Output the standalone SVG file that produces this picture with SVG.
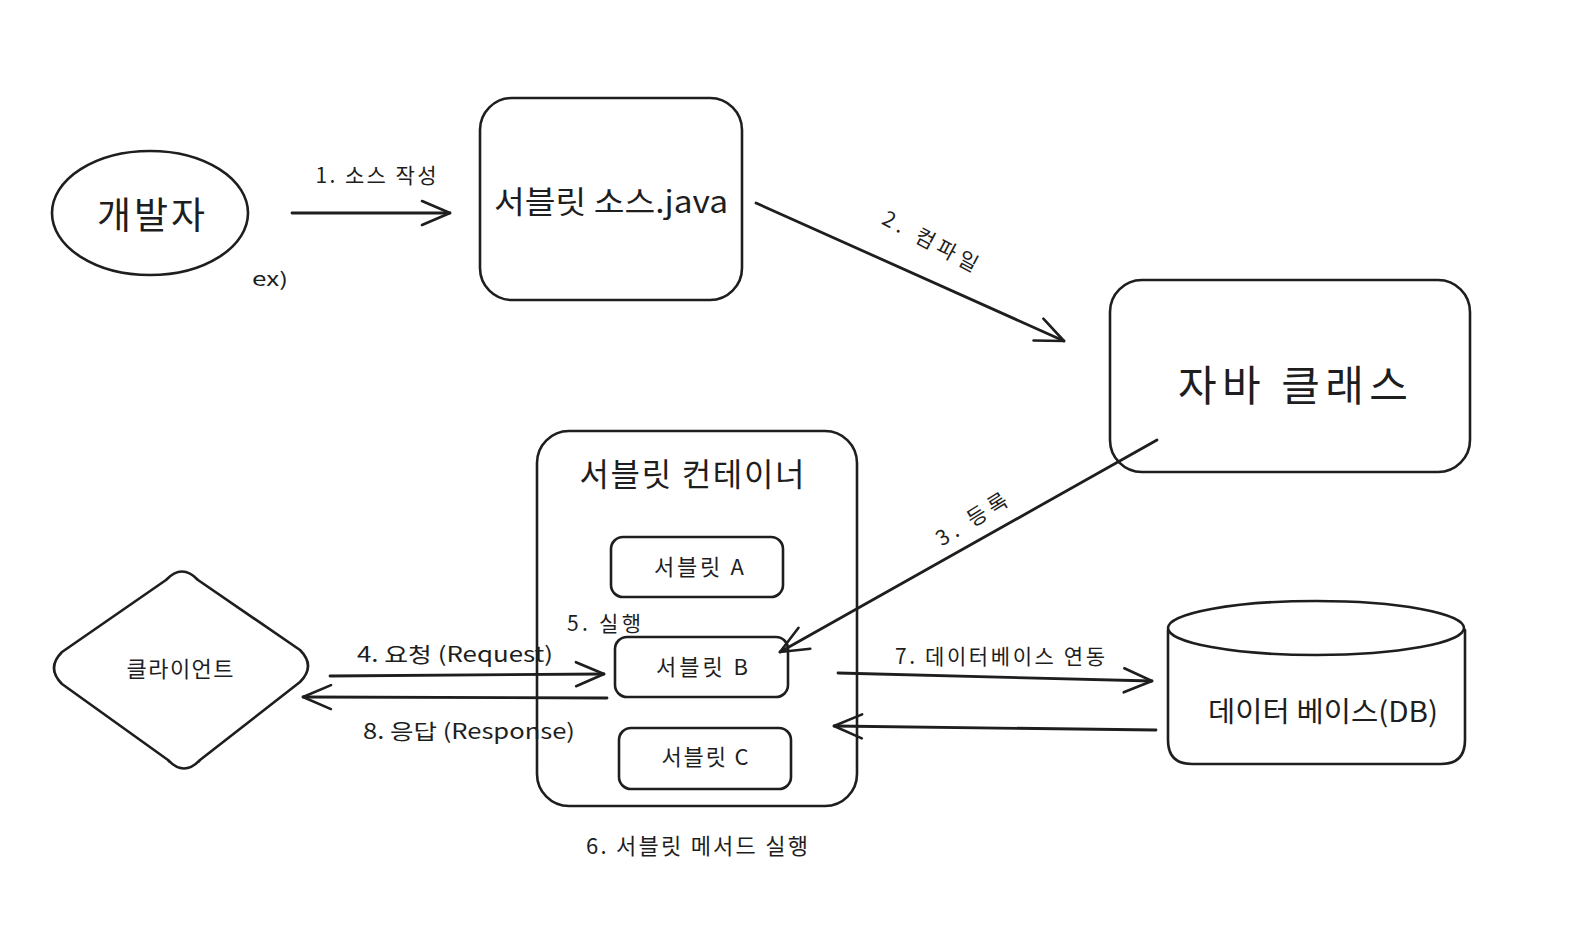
<svg xmlns="http://www.w3.org/2000/svg" width="1592" height="944" viewBox="0 0 1592 944">
<style>
.s{fill:none;stroke:#1e1e1e;stroke-width:2.6;stroke-linecap:round;stroke-linejoin:round}
.c{fill:none;stroke:#1e1e1e;stroke-width:2.8;stroke-linecap:round}
text{font-family:"Noto Sans CJK KR","Noto Sans",sans-serif;fill:#1e1e1e;text-anchor:middle;dominant-baseline:central}
</style>
<defs>
<marker id="ah" markerUnits="userSpaceOnUse" markerWidth="40" markerHeight="40" refX="30" refY="20" orient="auto" viewBox="0 0 40 40">
<path d="M2,8 L30,20 L2,32" fill="none" stroke="#1e1e1e" stroke-width="2.6" stroke-linecap="round" stroke-linejoin="round"/>
</marker>
</defs>
<rect width="1592" height="944" fill="#ffffff"/>

<g id="developer">
<ellipse class="s" cx="150" cy="213" rx="98" ry="62"/>
<text x="151" y="213" font-size="37" textLength="108" lengthAdjust="spacing">개발자</text>
</g>
<text x="270" y="277" font-size="19" textLength="36" lengthAdjust="spacingAndGlyphs">ex)</text>

<g id="servlet-source">
<rect class="s" x="480" y="98" width="262" height="202" rx="32"/>
<text x="611" y="199" font-size="31" textLength="234" lengthAdjust="spacingAndGlyphs">서블릿 소스.java</text>
</g>

<g id="java-class">
<rect class="s" x="1110" y="280" width="360" height="192" rx="32"/>
<text x="1293" y="382" font-size="42" textLength="230" lengthAdjust="spacing">자바 클래스</text>
</g>

<g id="servlet-container">
<rect class="s" x="537" y="431" width="320" height="375" rx="32"/>
<text x="692" y="472" font-size="32" textLength="225" lengthAdjust="spacing">서블릿 컨테이너</text>
</g>

<g id="servlet-a">
<rect class="s" x="611" y="537" width="172" height="60" rx="12"/>
<text x="699" y="565" font-size="22" textLength="90" lengthAdjust="spacing">서블릿 A</text>
</g>
<g id="servlet-b">
<rect class="s" x="615" y="637" width="173" height="60" rx="12"/>
<text x="702" y="665" font-size="22" textLength="92" lengthAdjust="spacing">서블릿 B</text>
</g>
<g id="servlet-c">
<rect class="s" x="619" y="728" width="172" height="61" rx="12"/>
<text x="705" y="755" font-size="22" textLength="87" lengthAdjust="spacing">서블릿 C</text>
</g>

<g id="client">
<path class="s" d="M166,580 Q182,563 198,580 L300,650 Q316,666 300,682 L200,760 Q184,777 168,760 L62,684 Q46,668 62,652 Z"/>
<text x="180" y="667" font-size="22" textLength="107" lengthAdjust="spacing">클라이언트</text>
</g>

<g id="database">
<path class="s" d="M1168,630 L1168,740 Q1168,764 1192,764 L1441,764 Q1465,764 1465,740 L1465,630"/>
<ellipse class="s" cx="1316" cy="628" rx="148" ry="27"/>
<text x="1323" y="710" font-size="28" textLength="230" lengthAdjust="spacingAndGlyphs">데이터 베이스(DB)</text>
</g>

<g id="connectors">
<line class="c" x1="292" y1="213" x2="450" y2="213" marker-end="url(#ah)"/>
<line class="c" x1="756" y1="203" x2="1064" y2="341" marker-end="url(#ah)"/>
<line class="c" x1="1157" y1="440" x2="780" y2="652" marker-end="url(#ah)" stroke-width="2"/>
<line class="c" x1="330" y1="676" x2="604" y2="674" marker-end="url(#ah)"/>
<line class="c" x1="607" y1="698" x2="303" y2="697" marker-end="url(#ah)"/>
<line class="c" x1="838" y1="673" x2="1152" y2="681" marker-end="url(#ah)"/>
<line class="c" x1="1156" y1="730" x2="834" y2="726" marker-end="url(#ah)"/>
</g>

<g id="labels">
<text x="376" y="174" font-size="21" textLength="121" lengthAdjust="spacing">1. 소스 작성</text>
<text x="931" y="240" font-size="21" transform="rotate(28 931 240)" textLength="105" lengthAdjust="spacing">2. 컴파일</text>
<text x="971" y="518" font-size="21" transform="rotate(-32 971 518)" textLength="80" lengthAdjust="spacing">3. 등록</text>
<text x="455" y="653" font-size="21" textLength="196" lengthAdjust="spacingAndGlyphs">4. 요청 (Request)</text>
<text x="604" y="622" font-size="21" textLength="74" lengthAdjust="spacing">5. 실행</text>
<text x="697" y="844" font-size="22" textLength="222" lengthAdjust="spacing">6. 서블릿 메서드 실행</text>
<text x="1000" y="655" font-size="21" textLength="210" lengthAdjust="spacing">7. 데이터베이스 연동</text>
<text x="469" y="730" font-size="21" textLength="212" lengthAdjust="spacingAndGlyphs">8. 응답 (Response)</text>
</g>
</svg>
